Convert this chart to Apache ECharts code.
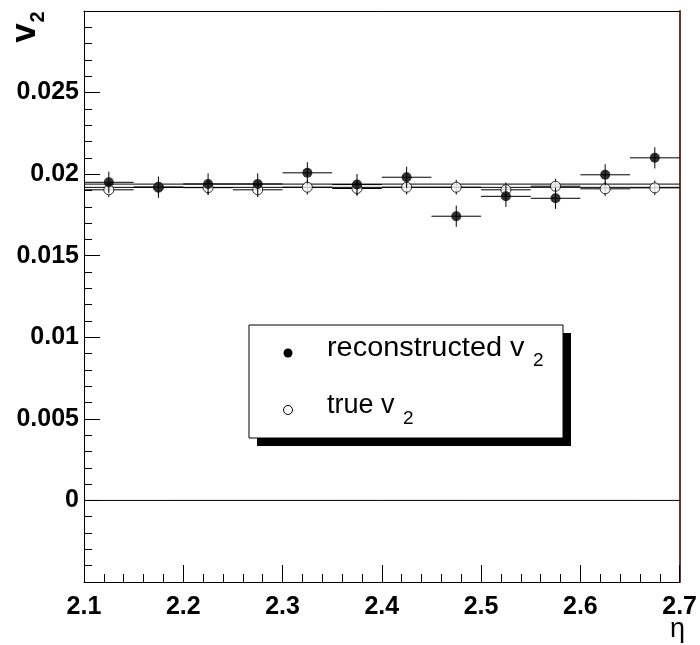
<!DOCTYPE html>
<html>
<head>
<meta charset="utf-8">
<script src="https://cdn.jsdelivr.net/npm/echarts@6/dist/echarts.min.js"></script>
<style>
  html, body { margin: 0; padding: 0; background: #fff; }
  #chart { width: 700px; height: 645px; }
</style>
</head>
<body>
<div id="chart"></div>
<script>
// eta bin centres and half width of each bin
const etaCenters = [2.125, 2.175, 2.225, 2.275, 2.325, 2.375, 2.425, 2.475, 2.525, 2.575, 2.625, 2.675];
const etaHalfWidth = [0.025, 0.025, 0.025, 0.025, 0.025, 0.025, 0.025, 0.025, 0.025, 0.025, 0.025, 0.025];

// reconstructed v2 per bin, with its statistical error
const recoV2 = [0.01950, 0.01920, 0.01940, 0.01940, 0.02008, 0.01936, 0.01981, 0.01742, 0.01864, 0.01852, 0.01996, 0.02100];
const recoErr = [0.00065, 0.00065, 0.00065, 0.00065, 0.00065, 0.00065, 0.00065, 0.00065, 0.00065, 0.00065, 0.00065, 0.00065];

// generated (true) v2 per bin, with its error
const trueV2 = [0.01904, 0.01920, 0.01917, 0.01904, 0.01920, 0.01912, 0.01920, 0.01920, 0.01904, 0.01926, 0.01910, 0.01916];
const trueErr = [0.00045, 0.00045, 0.00045, 0.00045, 0.00045, 0.00045, 0.00045, 0.00045, 0.00045, 0.00045, 0.00045, 0.00045];

// constant fits over the eta range
const recoFit = 0.01939;
const trueFit = 0.01919;

// axis tick labels
const xTickLabels = ['2.1', '2.2', '2.3', '2.4', '2.5', '2.6', '2.7'];
const yTickLabels = ['', '0', '0.005', '0.01', '0.015', '0.02', '0.025', ''];

const FONT = "'Liberation Sans', Arial, Helvetica, sans-serif";

function rows(xs, ys, exs, eys) {
  return xs.map((x, i) => [x, ys[i], exs[i], eys[i]]);
}

// draws horizontal (bin width) and vertical (error) bars around each point
function errorBars(params, api) {
  const x = api.value(0), y = api.value(1), ex = api.value(2), ey = api.value(3);
  const l = api.coord([x - ex, y]);
  const r = api.coord([x + ex, y]);
  const lo = api.coord([x, y - ey]);
  const hi = api.coord([x, y + ey]);
  const style = { stroke: '#000', lineWidth: 1 };
  return {
    type: 'group',
    children: [
      { type: 'line', shape: { x1: l[0], y1: l[1], x2: r[0], y2: r[1] }, style },
      { type: 'line', shape: { x1: lo[0], y1: lo[1], x2: hi[0], y2: hi[1] }, style }
    ]
  };
}

function flatLine(v) {
  return [[2.1, v], [2.7, v]];
}

const chart = echarts.init(document.getElementById('chart'), null, { renderer: 'canvas' });

const axisText = { fontFamily: FONT, fontWeight: 'bold', fontSize: 25, color: '#000' };

chart.setOption({
  animation: false,
  backgroundColor: '#fff',
  grid: { left: 84, right: 17, top: 11, bottom: 63, show: false },
  xAxis: [
    {
      type: 'value', min: 2.1, max: 2.7, interval: 0.1,
      axisLine: { show: true, onZero: false, lineStyle: { color: '#000', width: 1 } },
      axisTick: { show: true, inside: true, length: 17, lineStyle: { color: '#000' } },
      minorTick: { show: true, splitNumber: 5, length: 8, lineStyle: { color: '#000' } },
      splitLine: { show: false },
      minorSplitLine: { show: false },
      axisLabel: Object.assign({ margin: 13, showMinLabel: true, showMaxLabel: true,
        formatter: (v, i) => xTickLabels[i] }, axisText)
    },
    {
      type: 'value', position: 'top', min: 2.1, max: 2.7,
      axisLine: { show: true, onZero: false, lineStyle: { color: '#000', width: 1 } },
      axisTick: { show: false }, axisLabel: { show: false }, splitLine: { show: false }
    }
  ],
  yAxis: [
    {
      type: 'value', min: -0.005, max: 0.03, interval: 0.005,
      axisLine: { show: true, onZero: false, lineStyle: { color: '#000', width: 1 } },
      axisTick: { show: true, inside: true, length: 16, lineStyle: { color: '#000' } },
      minorTick: { show: true, splitNumber: 5, length: 8, lineStyle: { color: '#000' } },
      splitLine: { show: false },
      minorSplitLine: { show: false },
      axisLabel: Object.assign({ margin: 5, showMinLabel: true, showMaxLabel: true,
        formatter: (v, i) => yTickLabels[i] }, axisText)
    },
    {
      type: 'value', position: 'right', min: -0.005, max: 0.03,
      axisLine: { show: true, onZero: false, lineStyle: { color: '#6e3434', width: 2 } },
      axisTick: { show: false }, axisLabel: { show: false }, splitLine: { show: false }
    }
  ],
  series: [
    {
      name: 'zero', type: 'line', data: flatLine(0), symbol: 'none', z: 1,
      lineStyle: { color: '#000', width: 1 }, silent: true
    },
    {
      name: 'reconstructed fit', type: 'line', data: flatLine(recoFit), symbol: 'none', z: 1,
      lineStyle: { color: '#000', width: 1 }, silent: true
    },
    {
      name: 'true fit', type: 'line', data: flatLine(trueFit), symbol: 'none', z: 1,
      lineStyle: { color: '#000', width: 1 }, silent: true
    },
    {
      name: 'true errors', type: 'custom', z: 2,
      renderItem: errorBars, data: rows(etaCenters, trueV2, etaHalfWidth, trueErr)
    },
    {
      name: 'true v2', type: 'scatter', z: 3, symbol: 'circle', symbolSize: 10,
      itemStyle: { color: '#fff', borderColor: '#000', borderWidth: 1 },
      data: etaCenters.map((x, i) => [x, trueV2[i]])
    },
    {
      name: 'reconstructed errors', type: 'custom', z: 4,
      renderItem: errorBars, data: rows(etaCenters, recoV2, etaHalfWidth, recoErr)
    },
    {
      name: 'reconstructed v2', type: 'scatter', z: 5, symbol: 'circle', symbolSize: 10,
      itemStyle: { color: '#000' },
      data: etaCenters.map((x, i) => [x, recoV2[i]])
    }
  ],
  graphic: [
    // y-axis title, rotated
    { type: 'text', x: 25, y: 33, rotation: Math.PI / 2,
      style: { text: 'v', font: `bold 35px ${FONT}`, fill: '#000', align: 'center', verticalAlign: 'middle' } },
    { type: 'text', x: 38, y: 17, rotation: Math.PI / 2,
      style: { text: '2', font: `bold 20px ${FONT}`, fill: '#000', align: 'center', verticalAlign: 'middle' } },
    // x-axis title
    { type: 'text', x: 685, y: 630,
      style: { text: 'η', font: `27px ${FONT}`, fill: '#000', align: 'right', verticalAlign: 'middle' } },
    // legend box with drop shadow
    { type: 'rect', shape: { x: 257, y: 333, width: 314, height: 113 }, style: { fill: '#000' }, z: 10 },
    { type: 'rect', shape: { x: 249, y: 325, width: 314, height: 113 },
      style: { fill: '#fff', stroke: '#000', lineWidth: 1 }, z: 11 },
    { type: 'circle', shape: { cx: 288, cy: 353, r: 4.5 }, style: { fill: '#000' }, z: 12 },
    { type: 'circle', shape: { cx: 288, cy: 410, r: 4.5 }, style: { fill: '#fff', stroke: '#000', lineWidth: 1 }, z: 12 },
    { type: 'text', x: 327, y: 349, z: 12, scaleX: 1.07, originX: 0, originY: 0,
      style: { text: 'reconstructed v', font: `27px ${FONT}`, fill: '#000', verticalAlign: 'middle' } },
    { type: 'text', x: 533, y: 361, z: 12,
      style: { text: '2', font: `19px ${FONT}`, fill: '#000', verticalAlign: 'middle' } },
    { type: 'text', x: 327, y: 406, z: 12,
      style: { text: 'true v', font: `27px ${FONT}`, fill: '#000', verticalAlign: 'middle' } },
    { type: 'text', x: 403, y: 419, z: 12,
      style: { text: '2', font: `19px ${FONT}`, fill: '#000', verticalAlign: 'middle' } }
  ]
});
</script>
</body>
</html>
